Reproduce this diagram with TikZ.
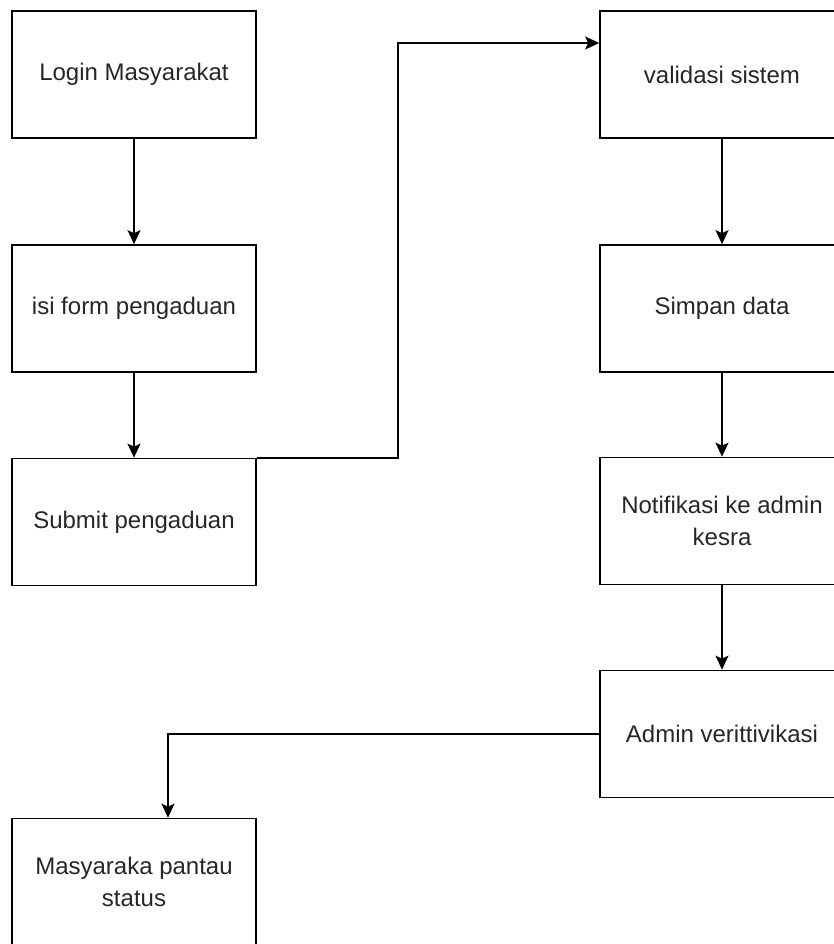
\documentclass[tikz,border=0pt]{standalone}
\usepackage{fontspec}
\setmainfont{Liberation Sans}
\usetikzlibrary{arrows.meta}
\begin{document}
\begin{tikzpicture}[x=1pt,y=-1pt,
  stepbox/.style={draw=black, line width=1.7pt, rectangle, minimum width=244pt,
    minimum height=127pt, inner sep=0pt, align=center, text=black!85,
    font=\fontsize{24pt}{32pt}\selectfont},
  flow/.style={draw=black, line width=1.7pt, -{Stealth[length=14pt,width=13pt,inset=3pt]}}]
\useasboundingbox (0,0) rectangle (834,944);
\clip (0,0) rectangle (834,944);
% left column
\node[stepbox] (login)  at (134,74.5) {Login Masyarakat};
\node[stepbox] (form)   at (134,308.5) {isi form pengaduan};
\node[stepbox] (submit) at (134,522) {Submit pengaduan};
\node[stepbox] (pantau) at (134,882) {Masyaraka pantau\\status};
% right column
\node[stepbox] (valid)  at (722,74.5) {validasi sistem};
\node[stepbox] (simpan) at (722,308.5) {Simpan data};
\node[stepbox] (notif)  at (722,521) {Notifikasi ke admin\\kesra};
\node[stepbox] (admin)  at (722,734) {Admin verittivikasi};
% connectors
\draw[flow] (login.south) -- (form.north);
\draw[flow] (form.south) -- (submit.north);
\draw[flow] (submit.north east) -- ++(141,0) |- ([yshift=31.5pt]valid.west);
\draw[flow] (valid.south) -- (simpan.north);
\draw[flow] (simpan.south) -- (notif.north);
\draw[flow] (notif.south) -- (admin.north);
\draw[flow] (admin.west) -| ([xshift=34pt]pantau.north);
\end{tikzpicture}
\end{document}
